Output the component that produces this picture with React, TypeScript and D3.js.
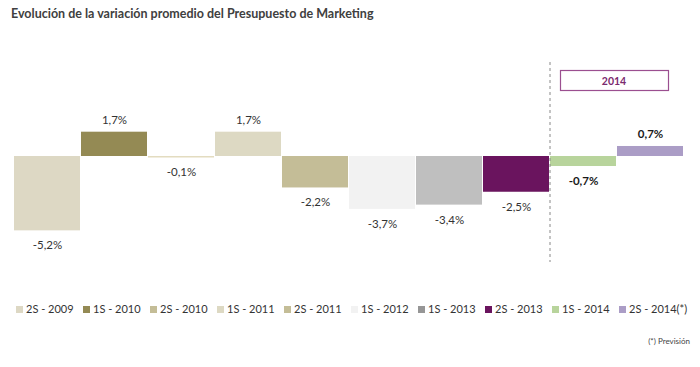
import React, { useEffect, useRef } from "react";
import * as d3 from "d3";

// Chart data
const periods = ["2S - 2009", "1S - 2010", "2S - 2010", "1S - 2011", "2S - 2011", "1S - 2012", "1S - 2013", "2S - 2013", "1S - 2014", "2S - 2014(*)"];
const values = [-5.2, 1.7, -0.1, 1.7, -2.2, -3.7, -3.4, -2.5, -0.7, 0.7];
const colors = ["#ddd8c4", "#948a54", "#e3dcc0", "#ddd9c3", "#c4bd97", "#f2f2f2", "#bfbfbf", "#6a145e", "#b8d49c", "#ab9dc6"];
const legendColors = ["#ddd8c4", "#948a54", "#c4bd97", "#ddd9c3", "#c4bd97", "#f2f2f2", "#969696", "#6a145e", "#b8d49c", "#ab9dc6"];
const boldFrom = 8; // forecast year labels are bold

const fmt = (v: number) => d3.format(".1f")(v).replace(".", ",").replace("−", "-") + "%";

function App() {
  const ref = useRef<SVGSVGElement>(null);

  useEffect(() => {
    const svg = d3.select(ref.current);
    svg.selectAll("*").remove();
    const font = "'Lato', 'Open Sans', sans-serif";

    // title
    svg.append("text")
      .attr("x", 11).attr("y", 18)
      .attr("font-family", font).attr("font-size", 12.5).attr("font-weight", "bold")
      .attr("fill", "#404040")
      .text("Evolución de la variación promedio del Presupuesto de Marketing");

    const x = d3.scaleBand().domain(periods).range([14, 684]).padding(0);
    const y = d3.scaleLinear().domain([-6, 2]).range([156 + 6 * 14.3, 156 - 2 * 14.3]);

    // bars
    svg.selectAll("rect.bar")
      .data(values)
      .join("rect")
        .attr("class", "bar")
        .attr("x", (d, i) => x(periods[i])!)
        .attr("width", x.bandwidth() - 1)
        .attr("y", d => y(Math.max(0, d)))
        .attr("height", d => Math.max(1.5, Math.abs(y(d) - y(0))))
        .attr("fill", (d, i) => colors[i]);

    // value labels
    svg.selectAll("text.val")
      .data(values)
      .join("text")
        .attr("class", "val")
        .attr("x", (d, i) => x(periods[i])! + x.bandwidth() / 2)
        .attr("y", d => d >= 0 ? y(d) - 8 : y(d) + 19)
        .attr("text-anchor", "middle")
        .attr("font-family", font)
        .attr("font-size", 11.5)
        .attr("font-weight", (d, i) => i >= boldFrom ? "bold" : "normal")
        .attr("fill", (d, i) => i >= boldFrom ? "#1a1a1a" : "#333")
        .text(d => fmt(d));

    // forecast separator
    const sepX = x(periods[boldFrom])!;
    svg.append("line")
      .attr("x1", sepX).attr("x2", sepX)
      .attr("y1", 62).attr("y2", 262)
      .attr("stroke", "#888").attr("stroke-width", 1)
      .attr("stroke-dasharray", "3,3");

    svg.append("rect")
      .attr("x", 560.5).attr("y", 70.5).attr("width", 108).attr("height", 20)
      .attr("fill", "white").attr("stroke", "#9b4f90").attr("stroke-width", 1.2);
    svg.append("text")
      .attr("x", 614).attr("y", 84.5)
      .attr("text-anchor", "middle")
      .attr("font-family", font).attr("font-size", 10.5).attr("font-weight", "bold")
      .attr("fill", "#7b2a6f")
      .text("2014");

    // legend
    const legend = svg.selectAll("g.leg")
      .data(periods)
      .join("g")
        .attr("class", "leg")
        .attr("transform", d => `translate(${x(d)! + 2},313)`);
    legend.append("rect")
      .attr("x", 0).attr("y", -7).attr("width", 7).attr("height", 7)
      .attr("fill", (d, i) => legendColors[i]);
    legend.append("text")
      .attr("x", 10).attr("y", 0)
      .attr("font-family", font).attr("font-size", 11)
      .attr("fill", "#333")
      .text(d => d);

    svg.append("text")
      .attr("x", 690).attr("y", 344)
      .attr("text-anchor", "end")
      .attr("font-family", font).attr("font-size", 8)
      .attr("fill", "#444")
      .text("(*) Previsión");
  }, []);

  return (
    <svg ref={ref} width={700} height={367}
      style={{ position: "absolute", left: 0, top: 0, background: "white" }} />
  );
}

export default App;
